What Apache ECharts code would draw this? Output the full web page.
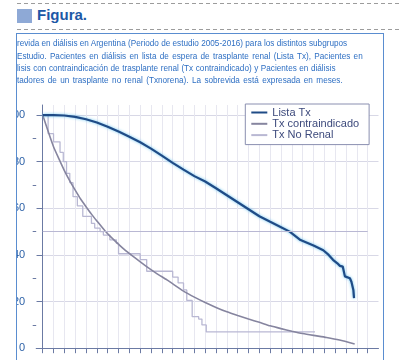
<!DOCTYPE html>
<html>
<head>
<meta charset="utf-8">
<script src="https://cdn.jsdelivr.net/npm/echarts@6/dist/echarts.min.js"></script>
<style>
  html, body { margin: 0; padding: 0; background: #fff; width: 399px; height: 360px; overflow: hidden; }
  body { position: relative; font-family: "Liberation Sans", Arial, sans-serif; }
  .dash { position: absolute; left: 17px; right: 0; height: 1px;
          background: repeating-linear-gradient(90deg, #9c9c9c 0 4px, transparent 4px 7px); }
  .sq { position: absolute; left: 17px; top: 8.5px; width: 15px; height: 14px; background: #8ea9d6; }
  .fig { position: absolute; left: 37px; top: 5px; font: bold 15px "Liberation Sans", Arial, sans-serif; color: #1d58a6; line-height: 20px; }
  .box { position: absolute; left: 16px; top: 33px; width: 366px; height: 360px;
         border: 1.5px solid #5a8dd0; overflow: hidden; background: #fff; }
  .cap { position: absolute; left: 0; white-space: nowrap; color: #2e6fc3;
         font: 9.3px "Liberation Sans", Arial, sans-serif; line-height: 12px;
         transform: scaleX(0.88); transform-origin: 0 0; }
  .cap .pre { position: absolute; right: 100%; }
  #chart { position: absolute; left: -17.5px; top: -34.5px; width: 399px; height: 360px; }
</style>
</head>
<body>
<div class="dash" style="top:3px"></div>
<div class="sq"></div>
<div class="fig">Figura.</div>
<div class="dash" style="top:29px"></div>

<div class="box">
  <div id="chart"></div>
  <div class="cap" style="top:3px"><span class="pre">Sob</span>revida en diálisis en Argentina (Periodo de estudio 2005-2016) para los distintos subgrupos</div>
  <div class="cap" style="top:15.5px;word-spacing:1.2px"><span class="pre">de </span>Estudio. Pacientes en diálisis en lista de espera de trasplante renal (Lista Tx), Pacientes en</div>
  <div class="cap" style="top:28px;word-spacing:0.3px"><span class="pre">diá</span>lisis con contraindicación de trasplante renal (Tx contraindicado) y Pacientes en diálisis</div>
  <div class="cap" style="top:40px;word-spacing:1.3px"><span class="pre">por</span>tadores de un trasplante no renal (Txnorena). La sobrevida está expresada en meses.</div>
</div>

<script>
// Survival (%) over time on dialysis (months)
const listaTxMeses    = [0, 5, 10, 15, 20, 25, 30, 35, 40, 45, 50, 55, 60, 65, 70, 75, 80, 85, 90, 95, 100, 105, 110, 114, 119, 125, 129.5, 132, 134, 136, 137.2, 138.5, 139.5, 141.8, 142.5, 143.4, 143.7];
const listaTxSobrevida = [100, 100, 99.8, 99.2, 98.2, 96.8, 95, 92.9, 90.7, 88.3, 85.6, 82.6, 79.5, 76.6, 73.8, 71.5, 68.6, 65.6, 62.6, 59.6, 56.6, 54.2, 51.9, 50, 46.4, 44, 42, 40, 37.9, 36.4, 35.3, 35, 30.8, 30, 28.5, 25, 21.5];

const contraMeses    = [0, 2.5, 5, 7.5, 10, 12.5, 15, 17.5, 20, 22.5, 25, 28.8, 32.5, 37.5, 42.5, 47.5, 52.5, 57.5, 65, 70, 75, 80, 85, 90, 95, 100, 105, 110, 115, 120, 125, 131, 137, 144];
const contraSobrevida = [100, 93, 86.4, 81.2, 76.2, 71.8, 67.8, 64, 60.7, 57.5, 54.6, 50.3, 46.8, 42.5, 38.8, 35.3, 32.1, 29.2, 24.5, 21.9, 19.6, 17.5, 15.6, 14, 12.5, 11.1, 9.6, 8.4, 7.3, 6.3, 5.5, 4.6, 3.5, 1.8];

const noRenalMeses    = [0, 2.5, 5, 8, 9.5, 11, 12.5, 14, 16, 18.5, 22.5, 24, 26.5, 28, 31, 34, 35, 45, 48, 60, 62.5, 65, 66.5, 69, 72, 73.5, 75.5, 125.7];
const noRenalSobrevida = [100, 92, 88.5, 84, 80, 75, 71, 65, 61, 56.5, 53.5, 51.5, 50, 48.5, 46.5, 45, 40.5, 38, 33, 30.5, 28, 25, 20.5, 13.5, 12.5, 10, 7, 7];

// Median reference line
const mediana = 50;
const medianaDesde = 0, medianaHasta = 150;

// Tick values
const yTicks = [0, 20, 40, 60, 80, 100];
const yLabels = ['0', '20', '40', '60', '80', '100'];
const yMinorTicks = [10, 30, 50, 70, 90];
const xTicks = [];
for (let m = 0; m <= 150; m += 5) xTicks.push(m);

const pairs = (xs, ys) => xs.map((x, i) => [x, ys[i]]);

const chart = echarts.init(document.getElementById('chart'), null, { renderer: 'canvas' });
const axisColor = '#6b7aa3';

chart.setOption({
  animation: false,
  backgroundColor: 'transparent',
  grid: { left: 36.2, right: 20.5, top: 105, bottom: 9, containLabel: false, outerBoundsMode: 'none' },
  legend: {
    orient: 'vertical',
    left: 245.3, top: 104,
    padding: [3, 10, 4, 5],
    itemWidth: 16, itemHeight: 13, itemGap: 0.3,
    borderColor: '#8a8fb0', borderWidth: 1, backgroundColor: '#fff',
    itemStyle: { opacity: 0 },
    textStyle: { fontSize: 11, color: '#3d4a7c', fontFamily: 'Liberation Sans, Arial, sans-serif' },
    data: ['Lista Tx', 'Tx contraindicado', 'Tx No Renal']
  },
  xAxis: {
    type: 'value', min: -3, max: 155,
    axisLine: { show: true, lineStyle: { color: axisColor, width: 1 } },
    axisTick: { show: true, length: 5, lineStyle: { color: axisColor }, customValues: xTicks },
    axisLabel: { show: false, customValues: xTicks },
    splitLine: { show: true, lineStyle: { color: '#e7e7f0', width: 1 } }
  },
  yAxis: [{
    type: 'value', min: -1.2, max: 104.3,
    axisLine: { show: true, lineStyle: { color: axisColor, width: 1 } },
    axisTick: { show: true, length: 6, lineStyle: { color: axisColor }, customValues: yTicks },
    axisLabel: { show: true, customValues: yTicks, margin: 11, fontSize: 11, color: '#2f63a8',
                 fontFamily: 'Liberation Sans, Arial, sans-serif',
                 formatter: v => yLabels[yTicks.indexOf(v)] },
    splitLine: { show: true, lineStyle: { color: '#d8d8e6', width: 1 } }
  }, {
    type: 'value', min: -1.2, max: 104.3, position: 'left',
    axisLine: { show: false },
    axisTick: { show: true, length: 3.5, lineStyle: { color: axisColor }, customValues: yMinorTicks },
    axisLabel: { show: false, customValues: yMinorTicks },
    splitLine: { show: false }
  }],
  series: [{
    name: 'Lista Tx', type: 'line', symbol: 'none', z: 4,
    data: pairs(listaTxMeses, listaTxSobrevida),
    itemStyle: { color: '#1f4b86' },
    lineStyle: { color: '#1f4b86', width: 2.2, shadowColor: 'rgba(90,190,240,0.9)', shadowBlur: 3 }
  }, {
    name: 'Tx contraindicado', type: 'line', symbol: 'none', smooth: 0.2, z: 3,
    data: pairs(contraMeses, contraSobrevida),
    itemStyle: { color: '#86859f' },
    lineStyle: { color: '#86859f', width: 1.6 }
  }, {
    name: 'Tx No Renal', type: 'line', symbol: 'none', step: 'end', z: 2,
    data: pairs(noRenalMeses, noRenalSobrevida),
    itemStyle: { color: '#b9b8d3' },
    lineStyle: { color: '#b9b8d3', width: 1.3 },
    markLine: {
      silent: true, symbol: 'none', label: { show: false },
      lineStyle: { color: '#b9b8d3', width: 1.2, type: 'solid' },
      data: [[{ coord: [medianaDesde, mediana] }, { coord: [medianaHasta, mediana] }]]
    }
  }]
});
</script>
</body>
</html>
